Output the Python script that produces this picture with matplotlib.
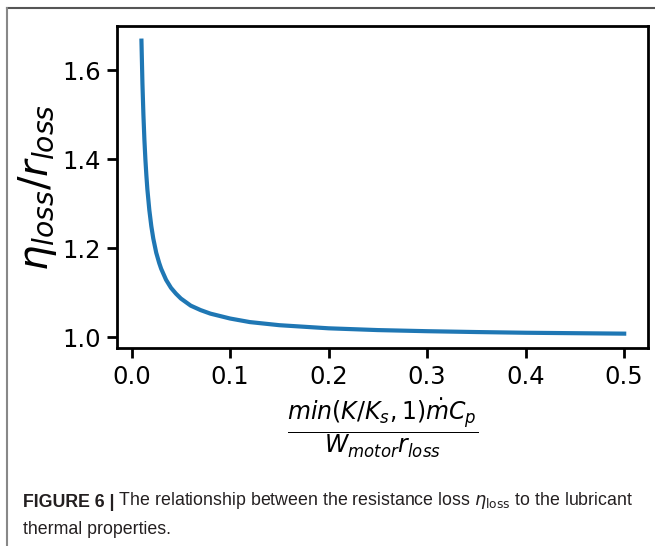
import matplotlib
matplotlib.use("Agg")
import matplotlib.pyplot as plt
from matplotlib.lines import Line2D

# values
x_vals = [0.010, 0.011, 0.012, 0.013, 0.014, 0.015, 0.016, 0.018, 0.020, 0.022,
          0.025, 0.028, 0.030, 0.035, 0.040, 0.045, 0.050, 0.060, 0.070, 0.080,
          0.100, 0.120, 0.150, 0.200, 0.250, 0.300, 0.350, 0.400, 0.450, 0.500]
y_vals = [1.667, 1.571, 1.500, 1.444, 1.400, 1.364, 1.333, 1.286, 1.250, 1.222,
          1.190, 1.167, 1.154, 1.129, 1.111, 1.098, 1.087, 1.071, 1.061, 1.053,
          1.042, 1.034, 1.027, 1.020, 1.016, 1.0135, 1.0116, 1.010, 1.009, 1.008]
x_ticks = [0.0, 0.1, 0.2, 0.3, 0.4, 0.5]
y_ticks = [1.0, 1.2, 1.4, 1.6]

fig = plt.figure(figsize=(6.55, 5.46), dpi=100)
ax = fig.add_axes([0.1791, 0.3621, 0.8107, 0.5903])

ax.plot(x_vals, y_vals, color='#1f77b4', linewidth=3)

ax.set_xticks(x_ticks)
ax.set_yticks(y_ticks)
ax.set_xticklabels([f"{v:.1f}" for v in x_ticks])
ax.set_yticklabels([f"{v:.1f}" for v in y_ticks])
ax.tick_params(labelsize=17.5, width=2, length=7, pad=5)
for s in ax.spines.values():
    s.set_linewidth(2)

ax.set_xlabel(r'$\dfrac{min(K/K_s,1)\dot{m}C_p}{W_{motor}r_{loss}}$', fontsize=17, labelpad=6)
ax.set_ylabel(r'$\eta_{loss}/r_{loss}$', fontsize=29, labelpad=2)

# outer frame of the figure panel
fig.add_artist(Line2D([7 / 655, 1.0], [1 - 8 / 546, 1 - 8 / 546], color='#555555', linewidth=1.5))
fig.add_artist(Line2D([7 / 655, 7 / 655], [0.0, 1 - 8 / 546], color='#888888', linewidth=1.5))

cap_font = ['Liberation Sans Narrow', 'Liberation Sans', 'DejaVu Sans']
bold = fig.text(23 / 655, 1 - 507 / 546, "FIGURE 6 |", fontsize=12.8, fontweight='bold',
                family=cap_font, color='#231f20')
ax.annotate(r" The relationship between the resistance loss $\eta_{\mathrm{loss}}$ to the lubricant",
            xy=(1, 0), xycoords=bold, va='bottom', ha='left', fontsize=12.8,
            family=cap_font, color='#231f20', annotation_clip=False)
fig.text(23 / 655, 1 - 534 / 546, "thermal properties.", fontsize=12.8, family=cap_font,
         color='#231f20')

fig.savefig("out.png", dpi=100)
